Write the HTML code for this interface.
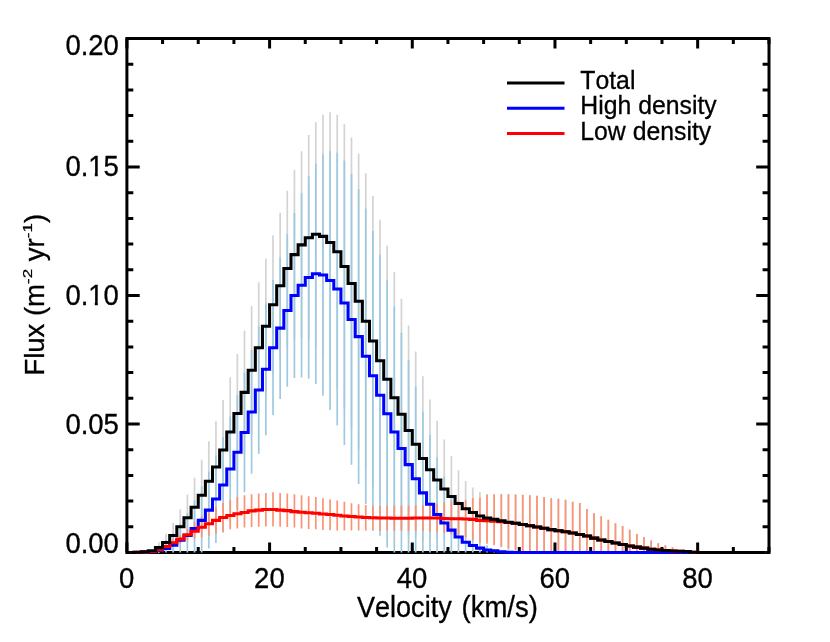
<!DOCTYPE html>
<html><head><meta charset="utf-8"><title>Flux vs Velocity</title>
<style>html,body{margin:0;padding:0;background:#fff;}body{width:830px;height:642px;position:relative;overflow:hidden;font-family:"Liberation Sans",sans-serif;}</style></head>
<body>
<svg width="830" height="642" viewBox="0 0 830 642" style="position:absolute;left:0;top:0;will-change:transform">
<rect width="830" height="642" fill="#fff"/>
<rect x="126.9" y="38.5" width="642.10" height="514.0" fill="none" stroke="#000" stroke-width="3.0"/>
<path d="M126.90 552.5v-10M126.90 38.5v10M162.57 552.5v-5.5M162.57 38.5v5.5M198.24 552.5v-5.5M198.24 38.5v5.5M233.92 552.5v-5.5M233.92 38.5v5.5M269.59 552.5v-10M269.59 38.5v10M305.26 552.5v-5.5M305.26 38.5v5.5M340.93 552.5v-5.5M340.93 38.5v5.5M376.61 552.5v-5.5M376.61 38.5v5.5M412.28 552.5v-10M412.28 38.5v10M447.95 552.5v-5.5M447.95 38.5v5.5M483.62 552.5v-5.5M483.62 38.5v5.5M519.29 552.5v-5.5M519.29 38.5v5.5M554.97 552.5v-10M554.97 38.5v10M590.64 552.5v-5.5M590.64 38.5v5.5M626.31 552.5v-5.5M626.31 38.5v5.5M661.98 552.5v-5.5M661.98 38.5v5.5M697.66 552.5v-10M697.66 38.5v10M733.33 552.5v-5.5M733.33 38.5v5.5M769.00 552.5v-5.5M769.00 38.5v5.5M126.9 552.50h12.8M769.0 552.50h-12.8M126.9 526.80h6.4M769.0 526.80h-6.4M126.9 501.10h6.4M769.0 501.10h-6.4M126.9 475.40h6.4M769.0 475.40h-6.4M126.9 449.70h6.4M769.0 449.70h-6.4M126.9 424.00h12.8M769.0 424.00h-12.8M126.9 398.30h6.4M769.0 398.30h-6.4M126.9 372.60h6.4M769.0 372.60h-6.4M126.9 346.90h6.4M769.0 346.90h-6.4M126.9 321.20h6.4M769.0 321.20h-6.4M126.9 295.50h12.8M769.0 295.50h-12.8M126.9 269.80h6.4M769.0 269.80h-6.4M126.9 244.10h6.4M769.0 244.10h-6.4M126.9 218.40h6.4M769.0 218.40h-6.4M126.9 192.70h6.4M769.0 192.70h-6.4M126.9 167.00h12.8M769.0 167.00h-12.8M126.9 141.30h6.4M769.0 141.30h-6.4M126.9 115.60h6.4M769.0 115.60h-6.4M126.9 89.90h6.4M769.0 89.90h-6.4M126.9 64.20h6.4M769.0 64.20h-6.4M126.9 38.50h12.8M769.0 38.50h-12.8" stroke="#000" stroke-width="3.0" fill="none"/>
<clipPath id="c"><rect x="126.9" y="38.5" width="642.10" height="515.7"/></clipPath>
<g clip-path="url(#c)">
<path d="M158.86 542.22V552.50M166.00 533.74V551.22M173.13 522.69V548.39M180.27 509.32V544.28M187.40 494.42V541.19M194.53 477.71V536.82M201.67 459.72V530.65M208.80 441.22V521.40M215.94 421.17V512.66M223.07 400.10V499.81M230.21 377.23V486.71M237.34 354.10V472.83M244.48 330.45V454.33M251.61 306.04V434.54M258.74 282.14V413.21M265.88 258.49V394.19M273.01 235.36V374.14M280.15 212.75V358.72M287.28 190.64V346.39M294.42 170.08V339.19M301.55 151.32V338.42M308.69 134.88V340.48M315.82 122.28V346.39M322.95 114.57V358.21M330.09 112.26V372.86M337.22 114.83V388.79M344.36 124.08V408.84M351.49 137.45V429.40M358.63 153.38V448.93M365.76 173.17V469.23M372.90 196.04V485.94M380.03 219.69V501.87M387.16 245.64V512.92M394.30 272.11V523.46M401.43 298.84V529.63M408.57 325.57V535.28M415.70 351.53V537.08M422.84 376.20V540.68M429.97 399.59V539.91M437.11 420.66V539.39M444.24 439.42V538.62M451.37 456.12V536.82M458.51 470.26V536.57M465.64 481.05V536.57M472.78 487.48V537.34M479.91 492.11V539.91M487.05 494.16V541.96M494.18 494.42V544.28M501.32 494.16V547.62M508.45 494.16V550.19M515.58 494.42V551.99M522.72 494.68V552.50M529.85 495.19V552.50M536.99 495.70V552.50M544.12 496.99V552.50M551.26 498.27V552.50M558.39 498.79V552.50M565.53 499.81V552.50M572.66 501.87V552.50M579.79 502.90V552.50M586.93 509.07V552.50M594.06 513.18V552.50M601.20 516.26V552.50M608.33 519.86V552.50M615.47 523.20V552.50M622.60 526.03V552.50M629.74 529.63V552.50M636.87 534.00V552.50M644.00 537.08V552.50M651.14 540.42V552.50M658.27 543.25V552.50M665.41 545.30V552.50M672.54 547.36V552.50M679.68 549.93V552.50" stroke="#D3D3D3" stroke-width="1.7" fill="none"/>
<path d="M158.86 545.26V552.50M166.00 540.00V552.50M173.13 532.97V552.50M180.27 523.39V552.50M187.40 513.09V552.50M194.53 500.23V552.50M201.67 486.33V552.50M208.80 471.61V548.58M215.94 455.13V542.96M223.07 437.05V532.77M230.21 416.42V521.53M237.34 395.28V509.26M244.48 372.60V492.36M251.61 349.98V473.86M258.74 326.34V453.81M265.88 303.21V435.31M273.01 280.08V415.26M280.15 257.21V399.07M287.28 234.08V386.74M294.42 213.00V378.00M301.55 192.96V377.48M308.69 176.25V378.77M315.82 163.40V383.91M322.95 154.15V395.73M330.09 151.07V410.12M337.22 152.61V425.54M344.36 160.83V445.07M351.49 173.94V464.86M358.63 189.36V483.88M365.76 208.38V503.93M372.90 230.99V520.38M380.03 254.64V535.80M387.16 279.82V547.62M394.30 306.55V552.50M401.43 332.76V552.50M408.57 360.26V552.50M415.70 386.48V552.50M422.84 411.66V552.50M429.97 435.05V552.50M437.11 457.15V552.50M444.24 476.69V552.50M451.37 495.96V552.50M458.51 510.10V552.50M465.64 521.66V552.50M472.78 531.94V552.50M479.91 539.65V552.50M487.05 545.30V552.50M494.18 548.90V552.50M501.32 550.96V552.50" stroke="#9ECAE1" stroke-width="1.7" fill="none"/>
<path d="M158.86 548.82V550.52M166.00 544.82V548.36M173.13 539.80V545.66M180.27 535.13V543.15M187.40 528.86V540.16M194.53 521.92V538.62M201.67 516.26V537.34M208.80 512.15V535.79M215.94 507.27V533.74M223.07 502.90V531.68M230.21 500.07V529.37M237.34 496.99V528.60M244.48 495.19V527.57M251.61 494.16V527.06M258.74 493.39V526.80M265.88 492.88V526.54M273.01 492.36V526.54M280.15 492.88V526.80M287.28 493.39V527.06M294.42 494.16V527.57M301.55 495.19V528.60M308.69 496.22V529.11M315.82 496.99V529.37M322.95 498.27V529.88M330.09 499.56V530.14M337.22 500.59V530.40M344.36 501.87V530.40M351.49 503.16V530.40M358.63 504.18V530.40M365.76 504.95V530.40M372.90 505.73V530.65M380.03 505.73V530.65M387.16 505.73V530.65M394.30 505.73V530.65M401.43 505.73V530.65M408.57 505.73V530.65M415.70 505.47V530.65M422.84 505.21V530.91M429.97 504.70V531.43M437.11 503.93V532.20M444.24 502.13V532.71M451.37 501.36V534.00M458.51 500.84V535.54M465.64 500.33V537.59M472.78 498.02V539.91M479.91 497.76V542.22M487.05 494.42V543.76M494.18 494.16V545.30M501.32 494.16V546.59M508.45 494.16V548.39M515.58 494.42V549.93M522.72 494.68V552.50M529.85 495.19V552.50M536.99 495.70V552.50M544.12 496.99V552.50M551.26 498.27V552.50M558.39 498.79V552.50M565.53 499.81V552.50M572.66 501.87V552.50M579.79 502.90V552.50M586.93 509.07V552.50M594.06 513.18V552.50M601.20 516.26V552.50M608.33 519.86V552.50M615.47 523.20V552.50M622.60 526.03V552.50M629.74 529.63V552.50M636.87 534.00V552.50M644.00 537.08V552.50M651.14 540.42V552.50M658.27 543.25V552.50M665.41 545.30V552.50M672.54 547.36V552.50M679.68 549.93V552.50M686.81 551.47V552.50" stroke="#FC9272" stroke-width="1.7" fill="none"/>
<path d="M130.47 552.50H134.03V552.50H141.17V552.24H148.30V551.73H155.44V550.44H162.57V548.39H169.71V545.30H176.84V540.16H183.98V535.54H191.11V528.60H198.24V520.38H205.38V510.10H212.51V499.04H219.65V484.91H226.78V468.98H233.92V452.27H241.05V432.48H248.19V411.92H255.32V390.08H262.45V369.26H269.59V347.67H276.72V328.14H283.86V310.41H290.99V295.50H298.13V285.22H305.26V277.51H312.40V273.66H319.53V274.94H326.66V280.59H333.80V289.08H340.93V302.95H348.07V319.40H355.20V336.62H362.34V356.15H369.47V375.68H376.61V395.22H383.74V413.72H390.87V431.97H398.01V448.42H405.14V464.61H412.28V478.74H419.41V492.88H426.55V504.18H433.68V514.46H440.82V522.95H447.95V530.14H455.08V537.08H462.22V542.22H469.35V545.56H476.49V548.13H483.62V549.93H490.76V550.70H497.89V551.73H505.03V552.24H512.16V552.50H519.29V552.50H526.43V552.50H533.56V552.50H540.70V552.50H547.83V552.50H554.97V552.50H562.10V552.50H569.24V552.50H576.37V552.50H583.50V552.50H590.64V552.50H597.77V552.50H604.91V552.50H612.04V552.50H619.18V552.50H626.31V552.50H633.45V552.50H640.58V552.50H647.71V552.50H654.85V552.50H661.98V552.50H669.12V552.50H676.25V552.50H683.39V552.50H690.52V552.50H697.66V552.50H704.79V552.50H711.92V552.50H719.06V552.50H726.19V552.50H733.33V552.50H740.46V552.50H747.60V552.50H754.73V552.50H761.87V552.50H765.43" stroke="#0000FF" stroke-width="3.05" fill="none" stroke-linejoin="miter" stroke-linecap="butt"/>
<path d="M130.47 552.50H134.03V552.24H141.17V551.99H148.30V551.47H155.44V549.67H162.57V546.59H169.71V542.73H176.84V539.14H183.98V534.77H191.11V531.17H198.24V527.31H205.38V523.72H212.51V520.38H219.65V517.55H226.78V515.49H233.92V513.69H241.05V512.41H248.19V510.87H255.32V510.10H262.45V509.58H269.59V509.58H276.72V510.10H283.86V510.61H290.99V511.64H298.13V512.15H305.26V512.66H312.40V513.18H319.53V513.95H326.66V514.46H333.80V515.24H340.93V516.01H348.07V516.52H355.20V517.03H362.34V517.55H369.47V517.80H376.61V518.06H383.74V518.06H390.87V518.32H398.01V518.32H405.14V518.32H412.28V518.06H419.41V518.06H426.55V518.06H433.68V518.06H440.82V518.58H447.95V518.83H455.08V518.83H462.22V519.09H469.35V519.35H476.49V520.38H483.62V520.63H490.76V521.15H497.89V521.66H505.03V522.43H512.16V523.20H519.29V524.49H526.43V525.77H533.56V527.06H540.70V528.34H547.83V529.63H554.97V530.65H562.10V531.68H569.24V532.97H576.37V534.51H583.50V536.05H590.64V538.11H597.77V539.91H604.91V541.45H612.04V542.99H619.18V544.53H626.31V546.08H633.45V547.10H640.58V548.13H647.71V549.16H654.85V549.93H661.98V550.44H669.12V550.96H676.25V551.22H683.39V551.47H690.52V552.24H697.66V552.50H704.79V552.50H711.92V552.50H719.06V552.50H726.19V552.50H733.33V552.50H740.46V552.50H747.60V552.50H754.73V552.50H761.87V552.50H765.43" stroke="#FF0000" stroke-width="3.05" fill="none" stroke-linejoin="miter" stroke-linecap="butt"/>
<path d="M130.47 552.50H134.03V552.24H141.17V551.73H148.30V550.70H155.44V547.62H162.57V542.48H169.71V535.54H176.84V526.80H183.98V517.80H191.11V507.27H198.24V495.19H205.38V481.31H212.51V466.92H219.65V449.96H226.78V431.97H233.92V413.46H241.05V392.39H248.19V370.29H255.32V347.67H262.45V326.34H269.59V304.75H276.72V285.73H283.86V268.52H290.99V254.64H298.13V244.87H305.26V237.68H312.40V234.33H319.53V236.39H326.66V242.56H333.80V251.81H340.93V266.46H348.07V283.42H355.20V301.15H362.34V321.20H369.47V340.99H376.61V360.78H383.74V379.28H390.87V397.79H398.01V414.23H405.14V430.43H412.28V444.30H419.41V458.44H426.55V469.75H433.68V480.03H440.82V489.02H447.95V496.47H455.08V503.41H462.22V508.81H469.35V512.41H476.49V516.01H483.62V518.06H490.76V519.35H497.89V520.89H505.03V522.17H512.16V523.20H519.29V524.49H526.43V525.77H533.56V527.06H540.70V528.34H547.83V529.63H554.97V530.65H562.10V531.68H569.24V532.97H576.37V534.51H583.50V536.05H590.64V538.11H597.77V539.91H604.91V541.45H612.04V542.99H619.18V544.53H626.31V546.08H633.45V547.10H640.58V548.13H647.71V549.16H654.85V549.93H661.98V550.44H669.12V550.96H676.25V551.22H683.39V551.47H690.52V552.24H697.66V552.50H704.79V552.50H711.92V552.50H719.06V552.50H726.19V552.50H733.33V552.50H740.46V552.50H747.60V552.50H754.73V552.50H761.87V552.50H765.43" stroke="#000000" stroke-width="3.05" fill="none" stroke-linejoin="miter" stroke-linecap="butt"/>
</g>
<path d="M507 83.0H564.5" stroke="#000" stroke-width="3.0"/>
<path d="M507 108.2H564.5" stroke="#00f" stroke-width="3.0"/>
<path d="M507 133.4H564.5" stroke="#f00" stroke-width="3.0"/>
<g font-family="Liberation Sans, sans-serif" fill="#000" stroke="#000" stroke-width="0.3" font-size="27.5" style="font-kerning:none">
<text transform="translate(126.70,587.60) scale(1,1.1)" text-anchor="middle">0</text>
<text transform="translate(269.39,587.60) scale(1,1.1)" text-anchor="middle">20</text>
<text transform="translate(412.08,587.60) scale(1,1.1)" text-anchor="middle">40</text>
<text transform="translate(554.77,587.60) scale(1,1.1)" text-anchor="middle">60</text>
<text transform="translate(697.46,587.60) scale(1,1.1)" text-anchor="middle">80</text>
<text transform="translate(118.90,553.30) scale(1,1.1)" text-anchor="end">0.00</text>
<text transform="translate(118.90,433.60) scale(1,1.1)" text-anchor="end">0.05</text>
<text transform="translate(118.90,304.50) scale(1,1.1)" text-anchor="end">0.10</text>
<rect x="89.0" y="300.80" width="5.8" height="5.4" fill="#fff" stroke="none"/>
<rect x="97.8" y="300.80" width="5.8" height="5.4" fill="#fff" stroke="none"/>
<text transform="translate(118.90,176.00) scale(1,1.1)" text-anchor="end">0.15</text>
<rect x="89.0" y="172.30" width="5.8" height="5.4" fill="#fff" stroke="none"/>
<rect x="97.8" y="172.30" width="5.8" height="5.4" fill="#fff" stroke="none"/>
<text transform="translate(118.90,55.00) scale(1,1.1)" text-anchor="end">0.20</text>
<text transform="translate(356.90,616.80) scale(1,1.09)" font-size="27.1">Velocity</text>
<text transform="translate(537.90,616.80) scale(1,1.09)" text-anchor="end" font-size="27.5">(km/s)</text>
<g transform="translate(43.8,375.6) rotate(-90)">
<text transform="scale(1,1.035)">Flux (m</text>
<text transform="translate(91.67,-12.0) scale(1,0.78)" font-size="17">-2</text>
<text transform="translate(114.44,0) scale(1,1.035)">yr</text>
<text transform="translate(137.36,-12.0) scale(1,0.78)" font-size="17">-1</text>
<text transform="translate(152.48,0) scale(1,1.035)">)</text>
</g>
</g>
<g font-family="Liberation Sans, sans-serif" fill="#000" stroke="#000" stroke-width="0.3" font-size="24.8" style="font-kerning:none">
<text transform="translate(580.30,89.00) scale(1,1.035)">Total</text>
<text transform="translate(580.30,114.30) scale(1,1.035)">High density</text>
<text transform="translate(580.30,139.60) scale(1,1.035)">Low density</text>
</g>
</svg>
</body></html>
